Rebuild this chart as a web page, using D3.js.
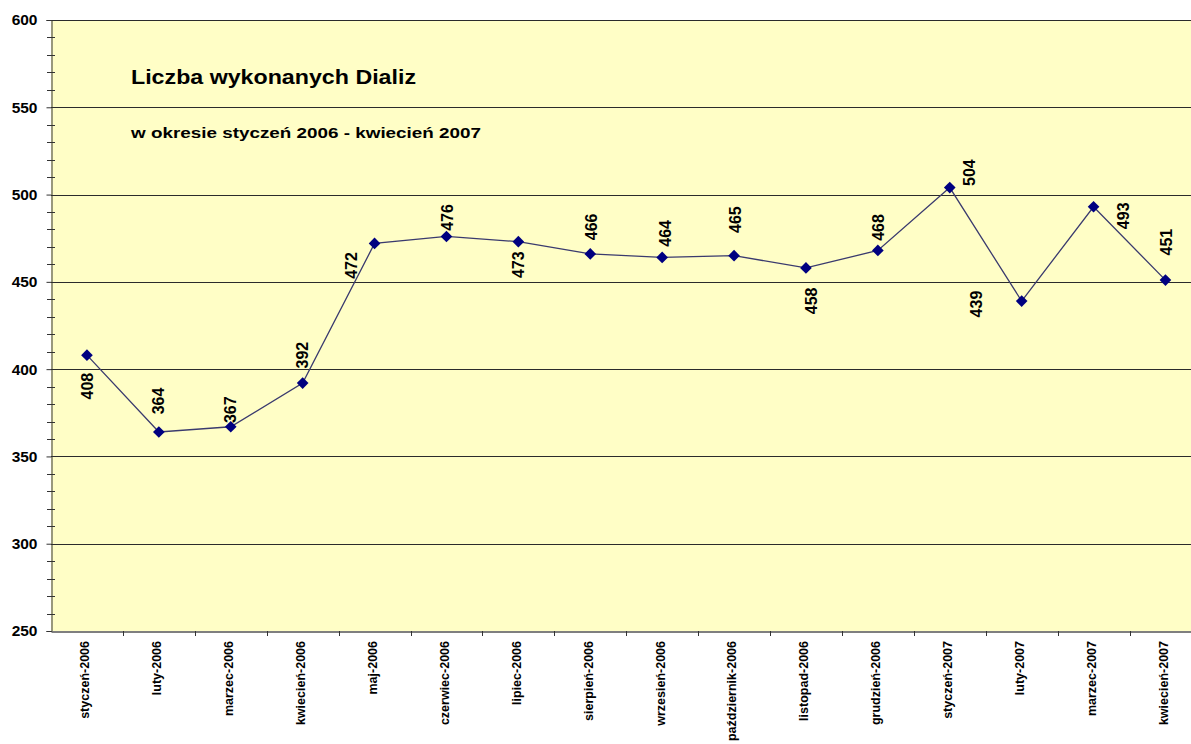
<!DOCTYPE html>
<html>
<head>
<meta charset="utf-8">
<script src="https://cdn.jsdelivr.net/npm/d3@7"></script>
<style>
  body { margin: 0; background: #ffffff; }
  svg text { font-family: Arial, "Liberation Sans", sans-serif; fill: #000; }
</style>
</head>
<body>
<div id="chart"></div>
<script>
// data
let months = [
  "styczeń-2006", "luty-2006", "marzec-2006", "kwiecień-2006", "maj-2006",
  "czerwiec-2006", "lipiec-2006", "sierpień-2006", "wrzesień-2006",
  "październik-2006", "listopad-2006", "grudzień-2006", "styczeń-2007",
  "luty-2007", "marzec-2007", "kwiecień-2007"
];
let dialyses = [408, 364, 367, 392, 472, 476, 473, 466, 464, 465, 458, 468, 504, 439, 493, 451];
let yTicks = [250, 300, 350, 400, 450, 500, 550, 600];

// where each value label sits relative to its point (manual placement, as in the original)
let labelShift = [
  [0, 31], [0, -31], [0, -17], [0, -28], [-23, 22], [1, -19], [0, 23], [1, -27],
  [3, -24], [1, -36], [5, 33], [1, -23], [20, -15], [-45, 3], [30, 9], [1, -38]
];

let width = 1191, height = 744;
let plotLeft = 51, plotTop = 20, plotBottom = 631;
let bandW = 71.9;

let svg = d3.select("#chart").append("svg")
  .attr("width", width)
  .attr("height", height);

let x = d3.scaleBand()
  .domain(months)
  .range([plotLeft, plotLeft + bandW * months.length])
  .padding(0);

let y = d3.scaleLinear()
  .domain([250, 600])
  .range([plotBottom, plotTop]);

// plot area
svg.append("rect")
  .attr("x", plotLeft)
  .attr("y", plotTop)
  .attr("width", x.range()[1] - plotLeft)
  .attr("height", plotBottom - plotTop)
  .attr("fill", "#fffec6");

// gridlines
svg.append("g")
  .selectAll("line")
  .data(yTicks.filter(d => d > 250))
  .enter()
  .append("line")
  .attr("x1", plotLeft)
  .attr("x2", x.range()[1])
  .attr("y1", d => Math.round(y(d)) + 0.5)
  .attr("y2", d => Math.round(y(d)) + 0.5)
  .attr("stroke", "#2b2b2b")
  .attr("stroke-width", 1);

// minor ticks on y axis (cross the axis)
svg.append("g")
  .selectAll("line")
  .data(d3.range(250, 601, 10).filter(d => d % 50 !== 0))
  .enter()
  .append("line")
  .attr("x1", plotLeft - 4)
  .attr("x2", plotLeft + 4)
  .attr("y1", d => Math.round(y(d)) + 0.5)
  .attr("y2", d => Math.round(y(d)) + 0.5)
  .attr("stroke", "#333");

// y axis
let yAxis = d3.axisLeft(y).tickValues(yTicks).tickSize(5).tickPadding(9).tickFormat(d3.format("d"));
let gy = svg.append("g").attr("transform", `translate(${plotLeft + 0.5}, 0)`).call(yAxis);
gy.select(".domain").attr("stroke", "#333");
gy.selectAll(".tick line").attr("stroke", "#333");
gy.selectAll("text")
  .attr("font-size", 15.5)
  .attr("font-weight", "bold")
  .attr("fill", "#000");

// x axis
let xAxis = d3.axisBottom(x).tickSize(0).tickFormat("");
let gx = svg.append("g").attr("transform", `translate(0, ${plotBottom + 0.5})`).call(xAxis);
gx.select(".domain").attr("stroke", "#555").attr("stroke-width", 1.5);

svg.append("g")
  .selectAll("line")
  .data(months.slice(1))
  .enter()
  .append("line")
  .attr("x1", d => Math.round(x(d)) + 0.5)
  .attr("x2", d => Math.round(x(d)) + 0.5)
  .attr("y1", plotBottom)
  .attr("y2", plotBottom + 5)
  .attr("stroke", "#333");

svg.append("g")
  .selectAll("text")
  .data(months)
  .enter()
  .append("text")
  .attr("transform", d => `translate(${x(d) + x.bandwidth() / 2 - 2}, ${plotBottom + 10}) rotate(-90)`)
  .attr("text-anchor", "end")
  .attr("dy", "0.35em")
  .attr("font-size", 12.5)
  .attr("font-weight", "bold")
  .text(d => d);

// series line
let pts = months.map((m, i) => [m, dialyses[i]]);
let line = d3.line()
  .x(d => x(d[0]) + x.bandwidth() / 2)
  .y(d => y(d[1]));

svg.append("path")
  .datum(pts)
  .attr("d", line)
  .attr("fill", "none")
  .attr("stroke", "#3a3a6e")
  .attr("stroke-width", 1.3);

svg.append("g")
  .selectAll("path")
  .data(pts)
  .enter()
  .append("path")
  .attr("d", d3.symbol().type(d3.symbolSquare).size(68))
  .attr("transform", d => `translate(${x(d[0]) + x.bandwidth() / 2}, ${y(d[1])}) rotate(45)`)
  .attr("fill", "#000080");

// value labels
svg.append("g")
  .selectAll("text")
  .data(pts)
  .enter()
  .append("text")
  .attr("transform", (d, i) => `translate(${x(d[0]) + x.bandwidth() / 2 + labelShift[i][0]}, ${y(d[1]) + labelShift[i][1]}) rotate(-90)`)
  .attr("text-anchor", "middle")
  .attr("dy", "0.35em")
  .attr("font-size", 16)
  .attr("font-weight", "bold")
  .text(d => d[1]);

// titles
svg.append("text")
  .attr("x", 131)
  .attr("y", 84)
  .attr("font-size", 20)
  .attr("font-weight", "bold")
  .attr("textLength", 285)
  .attr("lengthAdjust", "spacingAndGlyphs")
  .text("Liczba wykonanych Dializ");

svg.append("text")
  .attr("x", 131)
  .attr("y", 138)
  .attr("font-size", 15.5)
  .attr("font-weight", "bold")
  .attr("textLength", 350)
  .attr("lengthAdjust", "spacingAndGlyphs")
  .text("w okresie styczeń 2006 - kwiecień 2007");
</script>
</body>
</html>
